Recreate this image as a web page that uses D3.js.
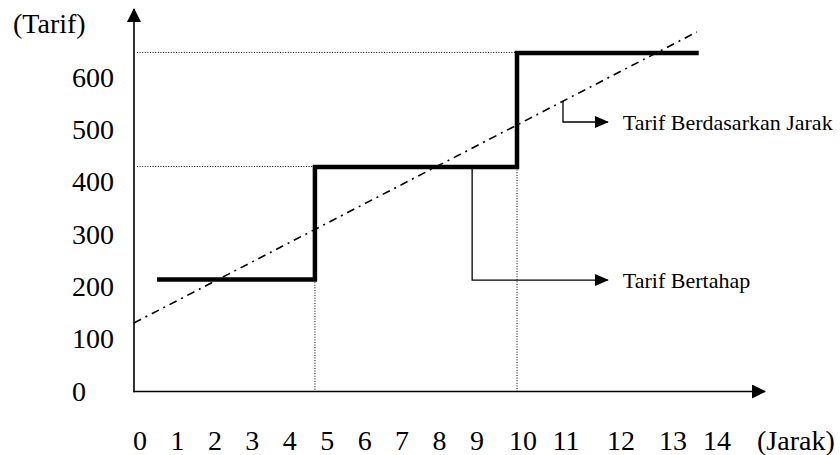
<!DOCTYPE html>
<html>
<head>
<meta charset="utf-8">
<script src="https://cdn.jsdelivr.net/npm/d3@7"></script>
<style>
  html, body { margin: 0; padding: 0; background: #fff; }
  svg { display: block; }
  text { font-family: "Liberation Serif", "Times New Roman", serif; fill: #000; }
</style>
</head>
<body>
<svg id="chart" width="840" height="455"></svg>
<script>
// ---- data ----
const xTickLabels = ["0","1","2","3","4","5","6","7","8","9","10","11","12","13","14"];
const yTickLabels = [0, 100, 200, 300, 400, 500, 600];
// Tarif Bertahap (step tariff): breakpoints in jarak and tariff levels
const stepJarak = [0.45, 4.64, 10.0, 14.82];
const stepTarif = [213, 428, 646, 646];
// Tarif Berdasarkan Jarak (distance-based, dash-dot line) endpoints
const lineJarak = [-0.16, 14.77];
const lineTarif = [130, 686];
// annotation callouts
const annoText   = ["Tarif Berdasarkan Jarak", "Tarif Bertahap"];
const annoJarak  = [11.22, 8.81];
const annoTarif  = [554, 428];
const annoElbow  = [514, 212];
const annoTipJarak = 12.41;

// ---- layout ----
const svg = d3.select("#chart");
const x = d3.scaleLinear().domain([0, 10]).range([140, 517]);
const y = d3.scaleLinear().domain([0, 600]).range([391, 77]);
// tick-label placement (labels in the reference are irregularly spaced)
const xLab = d3.scaleLinear().domain([0, 9, 10, 11, 12, 13, 14]).range([140, 477, 523, 566, 621, 673, 717]);
const axisX0 = 134, axisY0 = y(0) + 0.5;

const defs = svg.append("defs");
defs.append("marker").attr("id", "bigArrow").attr("viewBox", "0 0 14 14")
  .attr("refX", 13).attr("refY", 7).attr("markerWidth", 14).attr("markerHeight", 14)
  .attr("markerUnits", "userSpaceOnUse").attr("orient", "auto")
  .append("path").attr("d", "M0,0L14,7L0,14Z").attr("fill", "#000");
defs.append("marker").attr("id", "smallArrow").attr("viewBox", "0 0 14 12")
  .attr("refX", 13).attr("refY", 6).attr("markerWidth", 14).attr("markerHeight", 12)
  .attr("markerUnits", "userSpaceOnUse").attr("orient", "auto")
  .append("path").attr("d", "M0,0L14,6L0,12Z").attr("fill", "#000");

// dotted guide lines
const g = svg.append("g").attr("stroke", "#000").attr("stroke-width", 1).attr("stroke-dasharray", "1,1.6").attr("fill", "none");
[1, 2].forEach(i => {
  g.append("line").attr("x1", axisX0 + 3).attr("x2", x(stepJarak[i])).attr("y1", y(stepTarif[i]) - 0.5).attr("y2", y(stepTarif[i]) - 0.5);
  g.append("line").attr("x1", x(stepJarak[i])).attr("x2", x(stepJarak[i])).attr("y1", y(stepTarif[i - 1])).attr("y2", axisY0);
});

// axes
svg.append("line").attr("x1", axisX0).attr("x2", axisX0).attr("y1", axisY0 + 0.75).attr("y2", 9)
  .attr("stroke", "#000").attr("stroke-width", 1.6).attr("marker-end", "url(#bigArrow)");
svg.append("line").attr("x1", axisX0 - 0.75).attr("x2", 765).attr("y1", axisY0).attr("y2", axisY0)
  .attr("stroke", "#000").attr("stroke-width", 1.6).attr("marker-end", "url(#bigArrow)");

// dash-dot distance-based tariff
svg.append("path")
  .datum(lineJarak.map((j, i) => [j, lineTarif[i]]))
  .attr("d", d3.line().x(d => x(d[0])).y(d => y(d[1])))
  .attr("fill", "none").attr("stroke", "#000").attr("stroke-width", 1.6)
  .attr("stroke-dasharray", "8,5,2,5");

// step tariff
svg.append("path")
  .datum(stepJarak.map((j, i) => [j, stepTarif[i]]))
  .attr("d", d3.line().x(d => x(d[0])).y(d => y(d[1])).curve(d3.curveStepAfter))
  .attr("fill", "none").attr("stroke", "#000").attr("stroke-width", 4.5)
  .attr("stroke-linejoin", "miter").attr("stroke-linecap", "butt");

// annotations
annoText.forEach((t, i) => {
  const ax = x(annoJarak[i]), ay = y(annoTarif[i]), ey = y(annoElbow[i]), tx = x(annoTipJarak);
  svg.append("path").attr("d", `M${ax},${ay}V${ey}H${tx}`)
    .attr("fill", "none").attr("stroke", "#000").attr("stroke-width", 1.3)
    .attr("marker-end", "url(#smallArrow)");
  svg.append("text").attr("x", tx + 15).attr("y", ey + 8).attr("font-size", 22).text(t);
});

// tick labels
svg.append("g").selectAll("text").data(yTickLabels).join("text")
  .attr("x", 72).attr("y", d => y(d) + 9.5).attr("font-size", 28).text(d => d);
svg.append("g").selectAll("text").data(xTickLabels).join("text")
  .attr("x", (d, i) => xLab(i)).attr("y", 450).attr("text-anchor", "middle").attr("font-size", 28).text(d => d);

// axis titles
svg.append("text").attr("x", 13).attr("y", 33).attr("font-size", 28).text("(Tarif)");
svg.append("text").attr("x", 757).attr("y", 450).attr("font-size", 28).text("(Jarak)");
</script>
</body>
</html>
